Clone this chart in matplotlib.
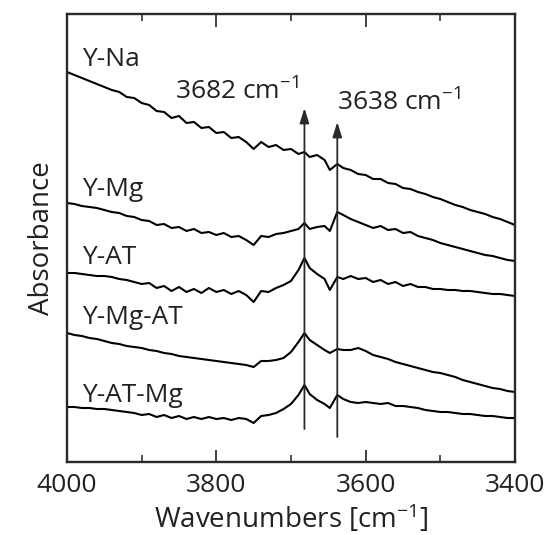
import matplotlib
matplotlib.use("Agg")
import matplotlib.pyplot as plt
from matplotlib.ticker import MultipleLocator

plt.rcParams['font.family'] = ['Open Sans', 'DejaVu Sans']
plt.rcParams['mathtext.fontset'] = 'custom'
plt.rcParams['mathtext.rm'] = 'Open Sans'
plt.rcParams['mathtext.it'] = 'Open Sans'

# Wavenumbers (cm-1)
wn = [4000, 3990, 3980, 3970, 3960, 3950, 3940, 3930, 3920, 3910,
      3900, 3890, 3880, 3870, 3860, 3850, 3840, 3830, 3820, 3810,
      3800, 3790, 3780, 3770, 3760, 3750, 3740, 3730, 3720, 3710,
      3700, 3690, 3682, 3675, 3665, 3655, 3648, 3638, 3630, 3620,
      3610, 3600, 3590, 3580, 3570, 3560, 3550, 3540, 3530, 3520,
      3510, 3500, 3490, 3480, 3470, 3460, 3450, 3440, 3430, 3420,
      3410, 3400]

# Stacked absorbance (arbitrary units x0.01, offset for display)
y_na = [390, 387, 384, 381, 378, 375, 372, 370, 365, 364,
        359, 357, 351, 350, 344, 346, 339, 340, 334, 335,
        329, 330, 324, 325, 320, 313, 320, 315, 317, 312,
        313, 308, 310, 305, 307, 302, 292, 298, 294, 292,
        288, 287, 283, 283, 279, 278, 274, 273, 270, 268,
        265, 263, 260, 257, 255, 252, 250, 248, 245, 243,
        240, 237]
y_mg = [259, 258, 256, 255, 254, 252, 250, 249, 246, 245,
        242, 241, 237, 238, 234, 235, 231, 233, 229, 230,
        227, 229, 225, 226, 222, 217, 226, 225, 228, 229,
        231, 233, 239, 233, 235, 236, 231, 250, 247, 243,
        240, 237, 234, 236, 232, 233, 229, 230, 226, 224,
        222, 219, 217, 215, 213, 211, 209, 207, 206, 204,
        202, 201]
y_at = [189, 189, 188, 187, 186, 186, 185, 183, 182, 180,
        178, 179, 174, 176, 171, 175, 170, 173, 169, 174,
        170, 172, 168, 171, 167, 160, 171, 170, 174, 177,
        181, 192, 204, 194, 188, 183, 172, 185, 183, 186,
        183, 184, 180, 182, 178, 180, 176, 178, 175, 175,
        173, 173, 172, 172, 171, 171, 170, 169, 168, 168,
        167, 166]
y_mg_at = [129, 127, 126, 124, 123, 121, 119, 118, 116, 115,
           114, 112, 111, 109, 108, 106, 105, 104, 103, 102,
           101, 100, 99, 98, 97, 95, 101, 101, 102, 104,
           110, 120, 129, 122, 117, 112, 109, 113, 112, 112,
           114, 111, 107, 105, 103, 100, 98, 96, 94, 92,
           90, 89, 87, 85, 82, 80, 78, 76, 74, 73,
           71, 70]
y_at_mg = [55, 55, 54, 54, 53, 53, 52, 51, 50, 49,
           47, 48, 45, 47, 44, 46, 43, 45, 43, 45,
           43, 44, 42, 44, 43, 39, 46, 47, 49, 53,
           58, 67, 77, 68, 62, 58, 54, 67, 63, 60,
           59, 60, 59, 58, 59, 56, 56, 55, 54, 52,
           51, 50, 50, 49, 48, 48, 47, 46, 46, 45,
           44, 44]

series = [y_na, y_mg, y_at, y_mg_at, y_at_mg]
labels = ["Y-Na", "Y-Mg", "Y-AT", "Y-Mg-AT", "Y-AT-Mg"]
label_y = [402, 272, 204, 144, 67]

peaks = [3682, 3638]
peak_labels = ["3682 cm$^{-1}$", "3638 cm$^{-1}$"]
arrow_top = [354, 340]
arrow_bottom = [33, 25]

fig = plt.figure(figsize=(5.5, 5.35), dpi=100)
ax = fig.add_axes([67/550, 73/535, 448/550, 448/535])

for s in series:
    ax.plot(wn, s, color='black', lw=1.5, solid_joinstyle='round')

for lab, ly in zip(labels, label_y):
    ax.text(3980, ly, lab, fontsize=19, color='#222222', ha='left', va='center')

for p, top, bot in zip(peaks, arrow_top, arrow_bottom):
    ax.annotate('', xy=(p, top), xytext=(p, bot),
                arrowprops=dict(arrowstyle='-|>,head_length=0.9,head_width=0.28',
                                color='#2a2a2a', lw=1.3, shrinkA=0, shrinkB=0))

ax.text(3690, 370, peak_labels[0], fontsize=19, color='#222222', ha='right', va='center')
ax.text(3639, 359, peak_labels[1], fontsize=19, color='#222222', ha='left', va='center')

ax.set_xlim(4000, 3400)
ax.set_ylim(0, 448)
ax.xaxis.set_major_locator(MultipleLocator(200))
ax.xaxis.set_minor_locator(MultipleLocator(100))
ax.set_yticks([])
ax.tick_params(axis='x', which='major', direction='in', length=9, width=1.3,
               top=True, labelsize=19, pad=8, colors='#333333', labelcolor='#222222')
ax.tick_params(axis='x', which='minor', direction='in', length=5, width=1.2,
               top=True, colors='#333333')
for sp in ax.spines.values():
    sp.set_linewidth(1.7)
    sp.set_color('#2a2a2a')

ax.set_xlabel("Wavenumbers [cm$^{-1}$]", fontsize=20, color='#222222', labelpad=3)
ax.set_ylabel("Absorbance", fontsize=20, color='#222222', labelpad=8)

fig.savefig("out.png", dpi=100)
